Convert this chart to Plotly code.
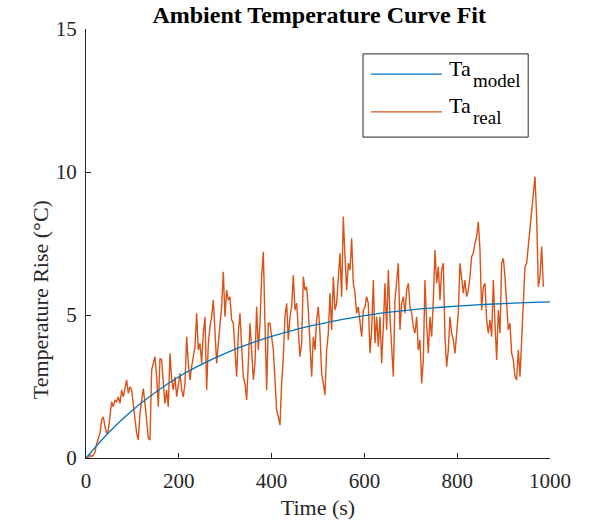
import numpy as np
import plotly.graph_objects as go

# Measured ambient temperature rise (°C), sampled uniformly over time
ta_real = [
    0.0, 0.0, 0.1, 0.05, 0.1, 0.2, 0.5, 0.7, 0.86, 1.33,
    1.44, 1.10, 0.86, 0.98, 1.56, 1.97, 1.79, 2.03, 1.97, 2.14,
    1.91, 2.38, 2.14, 2.49, 2.73, 2.26, 2.49, 2.38, 1.91, 1.44,
    0.86, 0.63, 1.56, 2.03, 2.43, 1.91, 1.21, 0.69, 0.63, 3.08,
    3.31, 3.54, 2.84, 1.79, 3.48, 3.43, 2.61, 1.91, 2.38, 1.79,
    3.66, 2.73, 2.38, 2.84, 2.14, 2.61, 2.96, 2.38, 2.14, 2.61,
    4.24, 3.31, 2.73, 3.19, 3.54, 3.89, 5.06, 3.78, 4.01, 3.31,
    4.36, 4.94, 2.38, 4.01, 4.59, 4.94, 5.52, 4.13, 3.31, 4.01,
    4.71, 5.29, 6.51, 4.94, 5.87, 5.52, 5.64, 4.83, 4.71, 3.54,
    2.84, 4.36, 5.06, 3.89, 2.84, 2.61, 2.03, 3.31, 4.71, 3.78,
    2.73, 3.31, 5.29, 3.78, 4.71, 6.34, 7.21, 4.71, 2.38, 4.71,
    4.71, 4.24, 3.78, 2.73, 1.68, 1.44, 1.15, 2.61, 3.54, 4.94,
    5.41, 4.13, 4.94, 5.29, 6.40, 5.17, 5.41, 4.48, 3.54, 4.01,
    6.34, 5.87, 5.99, 5.17, 3.78, 2.84, 4.24, 3.78, 4.83, 5.29,
    4.36,
    2.96, 2.61, 2.20, 3.78, 4.36, 5.76, 4.48, 6.34, 5.17, 5.41,
    6.46, 7.16, 5.64, 8.44, 7.04, 5.87, 6.81, 6.57, 7.68, 6.11,
    5.76, 5.06, 5.29, 4.83, 4.24, 5.17, 5.29, 5.64, 5.41, 3.66,
    4.48, 6.22, 4.01, 4.94, 3.89, 4.94, 3.31, 4.59, 6.11, 4.48,
    6.57, 4.94, 3.78, 2.84, 5.52, 6.34, 6.81, 4.48, 5.41, 5.64,
    5.06, 5.87, 6.11, 5.29, 5.06, 4.59, 4.36, 4.94, 3.78, 4.13,
    2.61, 3.43, 6.22, 4.71, 3.66, 4.94, 4.24, 5.52, 7.27, 6.11,
    6.69, 5.52, 6.57, 6.81, 4.24, 3.19, 3.78, 4.94, 4.36, 4.13,
    3.66, 4.36, 5.06, 6.81, 6.34, 5.76, 6.22, 5.64, 5.87, 6.34,
    7.04, 7.16, 7.50, 7.74, 8.26, 7.27, 5.17, 5.99, 6.11, 4.83,
    4.36, 4.83, 4.24, 6.22, 4.71, 3.43, 5.17, 4.36, 6.81, 6.98,
    6.34, 5.29, 4.48, 4.71, 3.66, 3.43, 2.84, 2.73, 3.78, 2.84,
    4.24, 5.29, 6.69, 6.81, 7.39, 7.97, 8.44, 9.14, 9.84, 8.44,
    5.99, 6.34, 7.39, 5.99,
]
time_real = np.linspace(1.4, 985.6, len(ta_real))

# Fitted model curve (°C) read at 50 s intervals
time_model = [0, 50, 100, 150, 200, 250, 300, 350, 400, 450, 500,
              550, 600, 650, 700, 750, 800, 850, 900, 950, 1000]
ta_model = [0.0, 0.91, 1.67, 2.30, 2.84, 3.28, 3.66, 3.98, 4.25, 4.48, 4.67,
            4.84, 4.98, 5.09, 5.18, 5.25, 5.31, 5.36, 5.40, 5.43, 5.46]

x_ticks = [0, 200, 400, 600, 800, 1000]
y_ticks = [0, 5, 10, 15]

BLUE = '#0072BD'
ORANGE = '#D95319'
AX = '#262626'
FONT = 'Liberation Serif, Times New Roman, serif'

fig = go.Figure()
fig.add_trace(go.Scatter(x=time_real, y=ta_real, mode='lines',
                         line=dict(color=ORANGE, width=1.4),
                         name='Ta real', showlegend=False))
fig.add_trace(go.Scatter(x=time_model, y=ta_model, mode='lines',
                         line=dict(color=BLUE, width=1.3, shape='spline'),
                         name='Ta model', showlegend=False))

axis_common = dict(ticks='inside', ticklen=5, tickwidth=1, tickcolor=AX,
                   showline=True, linecolor=AX, linewidth=1, mirror=False,
                   showgrid=False, zeroline=False, ticklabelstandoff=4,
                   automargin=False,
                   tickfont=dict(size=21, color=AX, family=FONT))

fig.update_xaxes(range=[0, 1000], tickvals=x_ticks,
                 title=dict(text='Time (s)', font=dict(size=22, color=AX, family=FONT), standoff=7),
                 **axis_common)
fig.update_yaxes(range=[0, 15], tickvals=y_ticks, **axis_common)

# y-axis label
fig.add_annotation(xref='paper', yref='paper', x=-0.099, y=0.368, xanchor='center', yanchor='middle',
                   text='Temperature Rise (°C)', textangle=-90, showarrow=False,
                   font=dict(size=22, color=AX, family=FONT))

# Legend box drawn in paper coordinates
fig.add_shape(type='rect', xref='paper', yref='paper', x0=0.597, x1=0.953, y0=0.748, y1=0.942,
              line=dict(color=AX, width=1), fillcolor='white')
fig.add_shape(type='line', xref='paper', yref='paper', x0=0.614, x1=0.767, y0=0.895, y1=0.895,
              line=dict(color=BLUE, width=1.3))
fig.add_shape(type='line', xref='paper', yref='paper', x0=0.614, x1=0.767, y0=0.807, y1=0.807,
              line=dict(color=ORANGE, width=1.3))
legend_rows = [('model', 0.907, 0.879), ('real', 0.822, 0.793)]
for sub, y_main, y_sub in legend_rows:
    fig.add_annotation(xref='paper', yref='paper', x=0.777, y=y_main, xanchor='left', yanchor='middle',
                       text='Ta', showarrow=False,
                       font=dict(size=22, color='black', family=FONT))
    fig.add_annotation(xref='paper', yref='paper', x=0.829, y=y_sub, xanchor='left', yanchor='middle',
                       text=sub, showarrow=False,
                       font=dict(size=19, color='black', family=FONT))

fig.update_layout(
    width=600, height=523,
    margin=dict(l=86, r=50, t=29, b=65, autoexpand=False),
    paper_bgcolor='white', plot_bgcolor='white',
    font=dict(family=FONT, color=AX, size=21),
    title=dict(text='<b>Ambient Temperature Curve Fit</b>', x=0.532, xanchor='center',
               y=0.973, yanchor='middle', font=dict(size=24, color='black', family=FONT),
               automargin=False),
    showlegend=False,
)

# remove the default 8 px page margin so the figure sits at the window's corner
fig.write_html('out.html', config={'displayModeBar': False},
               post_script="document.body.style.margin='0px';")
